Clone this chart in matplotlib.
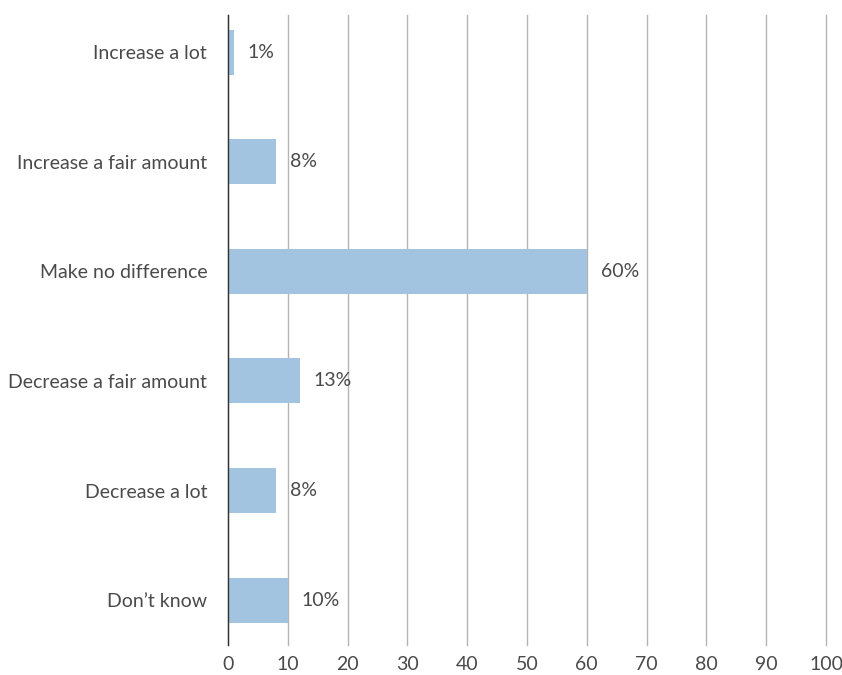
import matplotlib
matplotlib.use("Agg")
import matplotlib.pyplot as plt

categories = ["Increase a lot", "Increase a fair amount", "Make no difference",
              "Decrease a fair amount", "Decrease a lot", "Don\u2019t know"]
values = [1, 8, 60, 12, 8, 10]
labels = ["1%", "8%", "60%", "13%", "8%", "10%"]
xticks = [0, 10, 20, 30, 40, 50, 60, 70, 80, 90, 100]

plt.rcParams['font.family'] = ['Lato', 'DejaVu Sans']
text_color = '#4a4a4a'
fsize = 14

fig = plt.figure(figsize=(8.42, 6.75), dpi=100)
ax = fig.add_axes([228 / 842, 30 / 675, 598 / 842, 630 / 675])

ypos = list(range(len(categories)))
ax.barh(ypos, values, height=0.41, color='#a3c4e0', zorder=3)

# percentage labels just right of each bar
for y, v, lab in zip(ypos, values, labels):
    ax.annotate(lab, (v, y), xytext=(10, 0), textcoords='offset points',
                ha='left', va='center', fontsize=fsize, color=text_color)

ax.set_xlim(0, 100)
ax.set_ylim(5.41, -0.34)
ax.set_xticks(xticks)
ax.set_xticklabels([str(t) for t in xticks])
ax.set_yticks(ypos)
ax.set_yticklabels(categories)
ax.grid(axis='x', color='#b4b4b4', linewidth=1, zorder=0)
for gl in ax.get_xgridlines():
    gl.set_clip_on(False)
ax.set_axisbelow(True)

for s in ['top', 'right', 'bottom']:
    ax.spines[s].set_visible(False)
ax.spines['left'].set_color('#333333')
ax.spines['left'].set_linewidth(1)
ax.spines['left'].set_zorder(4)

ax.tick_params(axis='both', length=0, labelsize=fsize, labelcolor=text_color)
ax.tick_params(axis='y', pad=15)
ax.tick_params(axis='x', pad=8)

fig.savefig("out.png", dpi=100)
